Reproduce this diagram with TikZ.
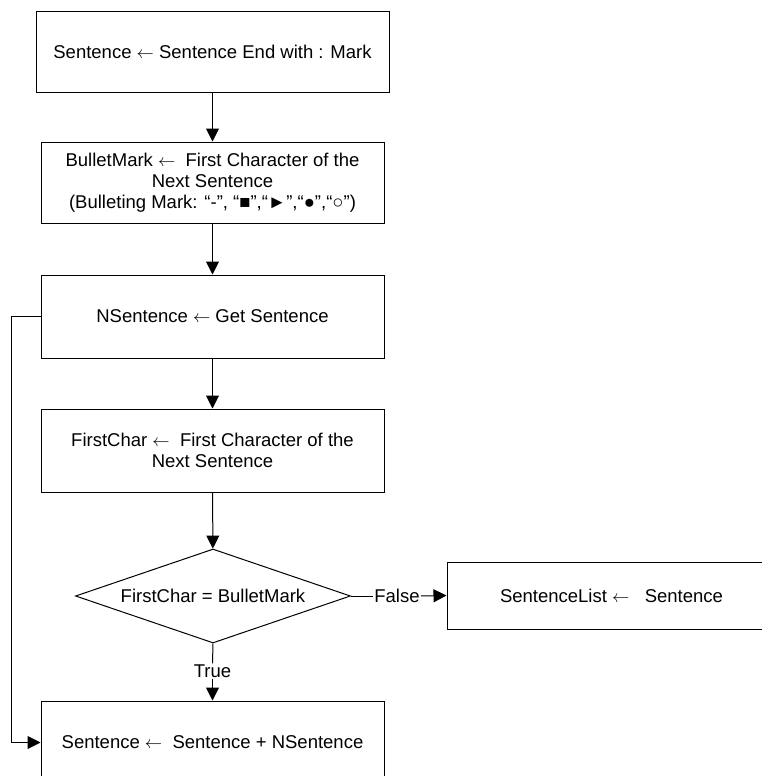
\documentclass[tikz,border=0pt]{standalone}
\usepackage{fontspec}
\setmainfont{Liberation Sans}
\usetikzlibrary{arrows.meta,shapes.geometric}

% assignment arrow
\newcommand\lgets{\ensuremath{\leftarrow}}

\tikzset{
  procbox/.style={draw=black, line width=1pt, rectangle, inner sep=0pt,
    align=center, minimum width=343pt, minimum height=83pt},
  decision/.style={draw=black, line width=1pt, diamond, inner sep=0pt,
    aspect=2.93, minimum width=275pt, minimum height=94pt},
  flow/.style={draw=black, line width=1pt,
    -{Triangle[length=13pt,width=13pt]}},
  plainline/.style={draw=black, line width=1pt},
  lbl/.style={inner sep=1pt, fill=white}
}

\begin{document}
\begin{tikzpicture}[x=1pt,y=-1pt,
  every node/.append style={font=\fontsize{18.5}{21}\selectfont}]
  \useasboundingbox (0,0) rectangle (762,776);

  % process steps
  \node[procbox, minimum width=353pt, minimum height=80pt] (start) at (212.5,52)
    {Sentence \lgets{} Sentence End with : Mark};
  \node[procbox, minimum height=81pt] (bullet) at (212.5,182.5)
    {BulletMark \lgets{} \ First Character of the\\Next Sentence\\
     (Bulleting Mark: “-”, “■”,“►”,“●”,“○”)};
  \node[procbox] (getsent) at (212.5,316.5) {NSentence \lgets{} Get Sentence};
  \node[procbox] (first) at (212.5,450.5)
    {FirstChar \lgets{} \ First Character of the\\Next Sentence};
  \node[decision] (test) at (213,596) {FirstChar = BulletMark};
  \node[procbox, minimum width=329pt, minimum height=67pt] (list) at (611.5,595.5)
    {SentenceList \lgets{} \ \ Sentence};
  \node[procbox] (join) at (212.5,742.5)
    {Sentence \lgets{} \ Sentence + NSentence};

  % branch labels
  \node[lbl] (false) at (397,596) {False};
  \node[lbl] (true) at (212.5,671) {True};

  % main flow
  \draw[flow] (start) -- (bullet);
  \draw[flow] (bullet) -- (getsent);
  \draw[flow] (getsent) -- (first);
  \draw[flow] (first) -- (test);
  \draw[plainline] (test.east) -- (false.west);
  \draw[flow] (false.east) -- (list.west);
  \draw[plainline] (test.south) -- (true.north);
  \draw[flow] (true.south) -- (join.north);

  % loop back from NSentence to the joined sentence
  \coordinate (loopx) at (11,0);
  \draw[flow] (getsent.west) -- (getsent.west -| loopx)
    -- (join.west -| loopx) -- (join.west);
\end{tikzpicture}
\end{document}
